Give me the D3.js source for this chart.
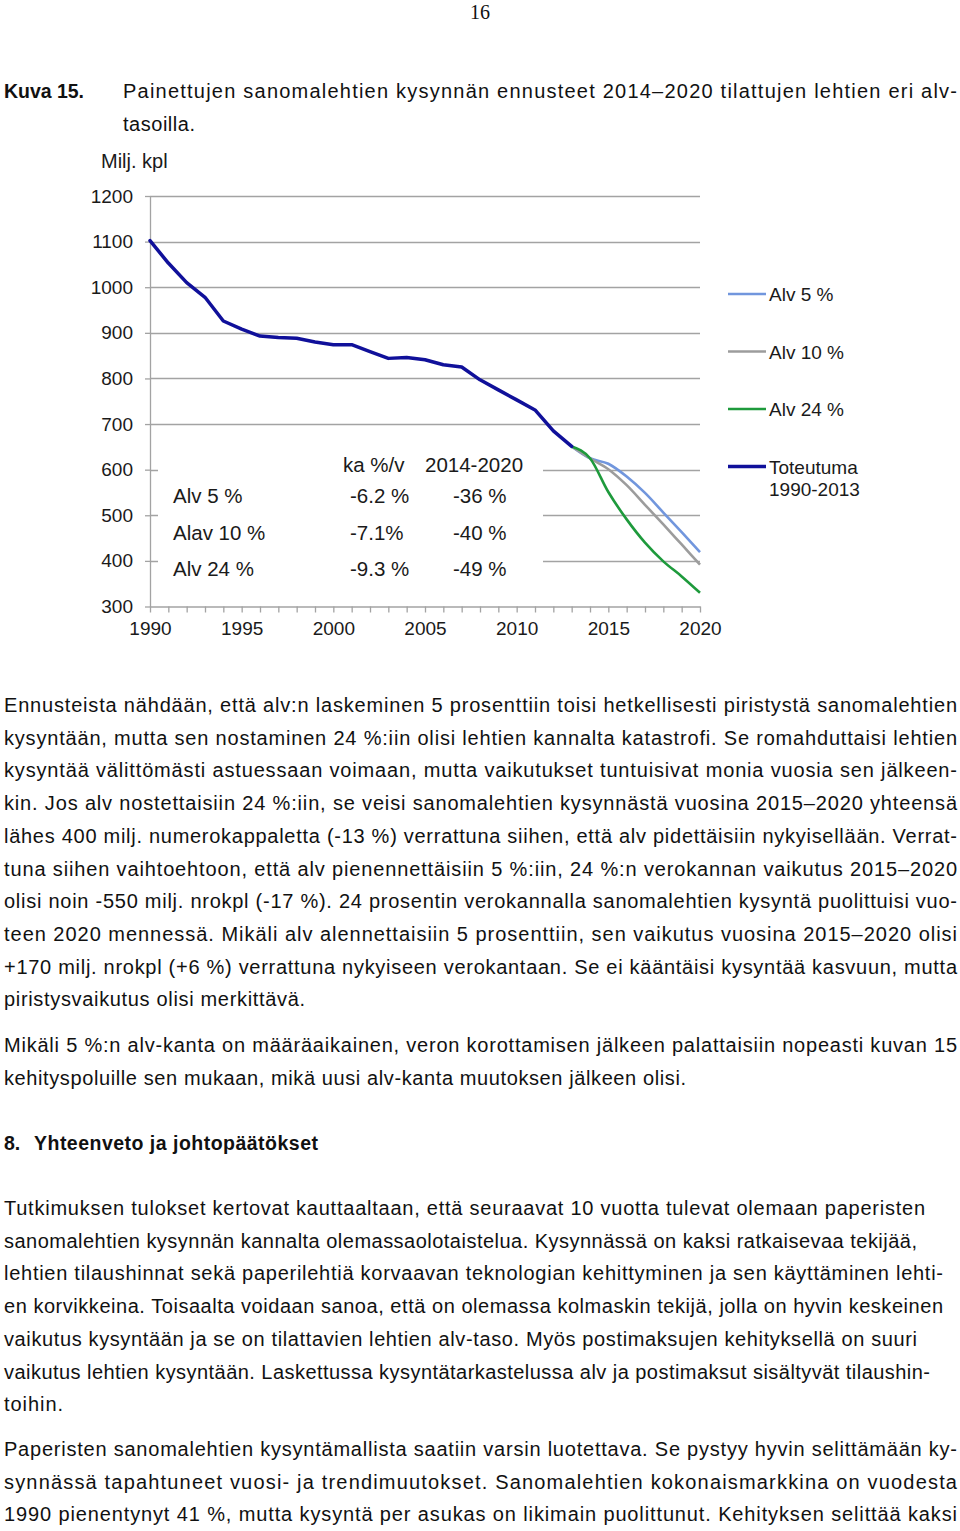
<!DOCTYPE html>
<html>
<head>
<meta charset="utf-8">
<script src="https://cdn.jsdelivr.net/npm/d3@7"></script>
<style>
  html, body { margin: 0; padding: 0; background: #fff; }
  svg { display: block; }
</style>
</head>
<body>
<script>
// ---------- chart data ----------
const actualYears = d3.range(1990, 2014);
const actualValues = [1102, 1053, 1010, 978, 926, 908, 893, 890, 888, 880, 874, 874, 859, 844, 846, 841, 830, 825, 797, 775, 753, 731, 685, 651];

const forecastYears = d3.range(2013, 2021);
const alv5Values  = [651, 625, 613, 585, 549, 506, 463, 419];
const alv10Values = [651, 625, 601, 566, 523, 480, 436, 392];
const alv24Values = [651, 625, 551, 491, 440, 399, 366, 330];

const yTickValues = [300, 400, 500, 600, 700, 800, 900, 1000, 1100, 1200];
const xTickYears = d3.range(1990, 2021);
const xLabelYears = [1990, 1995, 2000, 2005, 2010, 2015, 2020];

const legendNames = ["Alv 5 %", "Alv 10 %", "Alv 24 %", "Toteutuma"];
const legendSub = ["", "", "", "1990-2013"];
const unitLabel = "Milj. kpl";

const boxHeaders = ["ka %/v", "2014-2020"];
const boxRows = ["Alv 5 %", "Alav 10 %", "Alv 24 %"];
const boxAvg = ["-6.2 %", "-7.1%", "-9.3 %"];
const boxTotal = ["-36 %", "-40 %", "-49 %"];

// ---------- page text ----------
const pageNumber = "16";
const figLabel = "Kuva 15.";
const captionLines = [
  "Painettujen sanomalehtien kysynnän ennusteet 2014–2020 tilattujen lehtien eri alv-",
  "tasoilla."
];
const para1 = [
  "Ennusteista nähdään, että alv:n laskeminen 5 prosenttiin toisi hetkellisesti piristystä sanomalehtien",
  "kysyntään, mutta sen nostaminen 24 %:iin olisi lehtien kannalta katastrofi. Se romahduttaisi lehtien",
  "kysyntää välittömästi astuessaan voimaan, mutta vaikutukset tuntuisivat monia vuosia sen jälkeen-",
  "kin. Jos alv nostettaisiin 24 %:iin, se veisi sanomalehtien kysynnästä vuosina 2015–2020 yhteensä",
  "lähes 400 milj. numerokappaletta (-13 %) verrattuna siihen, että alv pidettäisiin nykyisellään. Verrat-",
  "tuna siihen vaihtoehtoon, että alv pienennettäisiin 5 %:iin, 24 %:n verokannan vaikutus 2015–2020",
  "olisi noin -550 milj. nrokpl (-17 %). 24 prosentin verokannalla sanomalehtien kysyntä puolittuisi vuo-",
  "teen 2020 mennessä. Mikäli alv alennettaisiin 5 prosenttiin, sen vaikutus vuosina 2015–2020 olisi",
  "+170 milj. nrokpl (+6 %) verrattuna nykyiseen verokantaan. Se ei kääntäisi kysyntää kasvuun, mutta",
  "piristysvaikutus olisi merkittävä."
];
const para2 = [
  "Mikäli 5 %:n alv-kanta on määräaikainen, veron korottamisen jälkeen palattaisiin nopeasti kuvan 15",
  "kehityspoluille sen mukaan, mikä uusi alv-kanta muutoksen jälkeen olisi."
];
const headingNum = "8.";
const headingText = "Yhteenveto ja johtopäätökset";
const para3 = [
  "Tutkimuksen tulokset kertovat kauttaaltaan, että seuraavat 10 vuotta tulevat olemaan paperisten",
  "sanomalehtien kysynnän kannalta olemassaolotaistelua. Kysynnässä on kaksi ratkaisevaa tekijää,",
  "lehtien tilaushinnat sekä paperilehtiä korvaavan teknologian kehittyminen ja sen käyttäminen lehti-",
  "en korvikkeina. Toisaalta voidaan sanoa, että on olemassa kolmaskin tekijä, jolla on hyvin keskeinen",
  "vaikutus kysyntään ja se on tilattavien lehtien alv-taso. Myös postimaksujen kehityksellä on suuri",
  "vaikutus lehtien kysyntään. Laskettussa kysyntätarkastelussa alv ja postimaksut sisältyvät tilaushin-",
  "toihin."
];
const para4 = [
  "Paperisten sanomalehtien kysyntämallista saatiin varsin luotettava. Se pystyy hyvin selittämään ky-",
  "synnässä tapahtuneet vuosi- ja trendimuutokset. Sanomalehtien kokonaismarkkina on vuodesta",
  "1990 pienentynyt 41 %, mutta kysyntä per asukas on likimain puolittunut. Kehityksen selittää kaksi"
];

// ---------- layout (positions) ----------
const W = 960, H = 1531;
const svg = d3.select("body").append("svg").attr("width", W).attr("height", H);
svg.append("rect").attr("width", W).attr("height", H).attr("fill", "#fff");

const SANS = "'Liberation Sans', Arial, Helvetica, sans-serif";
const SERIF = "'Liberation Serif', 'Times New Roman', serif";
const BODY = 20;

function fitText(sel, x0, x1) {
  sel.attr("textLength", x1 - x0).attr("lengthAdjust", "spacing");
}

// page number
svg.append("text").attr("x", 480).attr("y", 19).attr("text-anchor", "middle")
  .attr("font-family", SERIF).attr("font-size", 20).attr("fill", "#111").text(pageNumber);

// caption
svg.append("text").attr("x", 4).attr("y", 98).attr("font-family", SANS)
  .attr("font-size", 19.5).attr("font-weight", "bold").attr("fill", "#111").text(figLabel)
  .call(fitText, 4, 84);
const capEnds = [957, 195];
captionLines.forEach((t, i) => {
  svg.append("text").attr("x", 123).attr("y", 98 + i * 32.5).attr("font-family", SANS)
    .attr("font-size", BODY).attr("fill", "#111").text(t).call(fitText, 123, capEnds[i]);
});

// body paragraphs
function drawPara(lines, y0, ends) {
  lines.forEach((t, i) => {
    svg.append("text").attr("x", 4).attr("y", y0 + i * 32.7).attr("font-family", SANS)
      .attr("font-size", BODY).attr("fill", "#111").text(t).call(fitText, 4, ends[i]);
  });
}
drawPara(para1, 712, [957, 957, 957, 957, 957, 957, 957, 957, 957, 305]);
drawPara(para2, 1052, [957, 686]);
svg.append("text").attr("x", 4).attr("y", 1150).attr("font-family", SANS)
  .attr("font-size", 19.5).attr("font-weight", "bold").attr("fill", "#111").text(headingNum);
svg.append("text").attr("x", 34).attr("y", 1150).attr("font-family", SANS)
  .attr("font-size", 19.5).attr("font-weight", "bold").attr("fill", "#111").text(headingText)
  .call(fitText, 34, 318);
drawPara(para3, 1215, [925, 917, 943, 943, 917, 930, 63]);
drawPara(para4, 1456, [957, 957, 957]);

// ---------- chart ----------
const x = d3.scaleLinear().domain([1990, 2020]).range([150, 700]);
const y = d3.scaleLinear().domain([300, 1200]).range([606.5, 196]);
const gridColor = "#a3a3a3";
const chart = svg.append("g");

// gridlines
chart.append("g").selectAll("line").data(yTickValues.filter(v => v > 300)).join("line")
  .attr("x1", x(1990)).attr("x2", x(2020))
  .attr("y1", d => Math.round(y(d)) + 0.5).attr("y2", d => Math.round(y(d)) + 0.5)
  .attr("stroke", gridColor).attr("stroke-width", 1.3);

// white text box covering gridlines
chart.append("rect").attr("x", 158).attr("y", 440).attr("width", 543 - 158).attr("height", 150)
  .attr("fill", "#fff");

// y axis
const yAxis = chart.append("g").attr("transform", `translate(${x(1990)},0)`)
  .call(d3.axisLeft(y).tickValues(yTickValues).tickSize(5).tickPadding(12).tickSizeOuter(0)
    .tickFormat(d3.format("d")));
yAxis.selectAll("path, line").attr("stroke", gridColor).attr("stroke-width", 1.3);
yAxis.selectAll("text").attr("font-family", SANS).attr("font-size", 19).attr("fill", "#1a1a1a");

// x axis
const xAxis = chart.append("g").attr("transform", `translate(0,${y(300)})`)
  .call(d3.axisBottom(x).tickValues(xTickYears).tickSize(6).tickPadding(9).tickSizeOuter(0)
    .tickFormat(d => xLabelYears.includes(d) ? String(d) : ""));
xAxis.selectAll("path, line").attr("stroke", gridColor).attr("stroke-width", 1.3);
xAxis.selectAll("text").attr("font-family", SANS).attr("font-size", 19).attr("fill", "#1a1a1a");

// unit label
chart.append("text").attr("x", 101).attr("y", 168).attr("font-family", SANS)
  .attr("font-size", 20).attr("fill", "#1a1a1a").text(unitLabel);

// text box contents
const boxFont = 20.5;
chart.append("text").attr("x", 343).attr("y", 472).attr("font-family", SANS)
  .attr("font-size", boxFont).attr("fill", "#1a1a1a").text(boxHeaders[0]);
chart.append("text").attr("x", 425).attr("y", 472).attr("font-family", SANS)
  .attr("font-size", boxFont).attr("fill", "#1a1a1a").text(boxHeaders[1]);
boxRows.forEach((r, i) => {
  const by = 503 + i * 36.7;
  chart.append("text").attr("x", 173).attr("y", by).attr("font-family", SANS)
    .attr("font-size", boxFont).attr("fill", "#1a1a1a").text(r);
  chart.append("text").attr("x", 350).attr("y", by).attr("font-family", SANS)
    .attr("font-size", boxFont).attr("fill", "#1a1a1a").text(boxAvg[i]);
  chart.append("text").attr("x", 453).attr("y", by).attr("font-family", SANS)
    .attr("font-size", boxFont).attr("fill", "#1a1a1a").text(boxTotal[i]);
});

// series lines
const colors = { alv5: "#7196dd", alv10: "#9c9c9c", alv24: "#1e9a3c", actual: "#10109a" };
const line = d3.line().x(d => x(d[0])).y(d => y(d[1]));
const fLine = d3.line().x(d => x(d[0])).y(d => y(d[1])).curve(d3.curveMonotoneX);

const series = [
  { vals: alv5Values, color: colors.alv5 },
  { vals: alv10Values, color: colors.alv10 },
  { vals: alv24Values, color: colors.alv24 }
];
series.forEach(s => {
  chart.append("path").datum(forecastYears.map((yr, i) => [yr, s.vals[i]]))
    .attr("d", fLine).attr("fill", "none").attr("stroke", s.color)
    .attr("stroke-width", 2.6).attr("stroke-linejoin", "round");
});
chart.append("path").datum(actualYears.map((yr, i) => [yr, actualValues[i]]))
  .attr("d", line).attr("fill", "none").attr("stroke", colors.actual)
  .attr("stroke-width", 3.5).attr("stroke-linejoin", "round").attr("stroke-linecap", "round");

// legend
const legendColors = [colors.alv5, colors.alv10, colors.alv24, colors.actual];
legendNames.forEach((n, i) => {
  const ly = 294 + i * 57.5;
  chart.append("line").attr("x1", 728).attr("x2", 766).attr("y1", ly).attr("y2", ly)
    .attr("stroke", legendColors[i]).attr("stroke-width", i === 3 ? 3.5 : 2.6);
  chart.append("text").attr("x", 769).attr("y", ly + 7).attr("font-family", SANS)
    .attr("font-size", 19).attr("fill", "#1a1a1a").text(n);
  if (legendSub[i]) {
    chart.append("text").attr("x", 769).attr("y", ly + 29).attr("font-family", SANS)
      .attr("font-size", 19).attr("fill", "#1a1a1a").text(legendSub[i]);
  }
});
</script>
</body>
</html>
